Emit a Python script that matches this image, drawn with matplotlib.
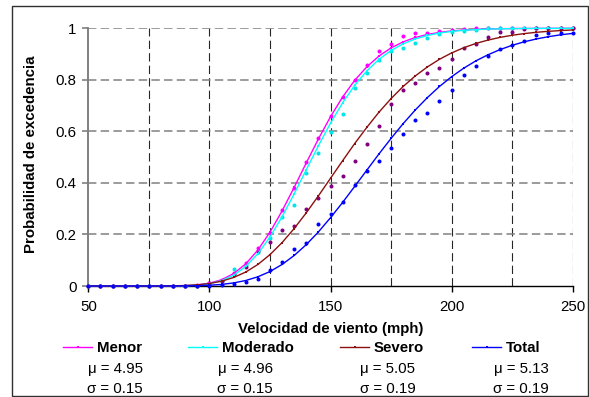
import matplotlib
matplotlib.use("Agg")
import matplotlib.pyplot as plt
from matplotlib.patches import Rectangle

plt.rcParams['font.family'] = ['Liberation Sans', 'DejaVu Sans']

# ---------------- data ----------------
speed = list(range(50, 255, 5))  # mph

series_names = ["Menor", "Moderado", "Severo", "Total"]
mu_labels = ["μ = 4.95", "μ = 4.96", "μ = 5.05", "μ = 5.13"]
sigma_labels = ["σ = 0.15", "σ = 0.15", "σ = 0.19", "σ = 0.19"]

# fitted (lognormal) curves read at every 5 mph
fit_menor = [0, 0, 0, 0, 0, 0, 0.0001, 0.0004, 0.0013, 0.0041, 0.0108, 0.0242,
             0.0482, 0.0858, 0.1394, 0.2087, 0.2912, 0.3829, 0.4777, 0.5706,
             0.6569, 0.7334, 0.7981, 0.8506, 0.8923, 0.9239, 0.9474, 0.9643,
             0.9761, 0.9843, 0.9899, 0.9936, 0.9959, 0.9975, 0.9984, 0.9991,
             0.9994, 0.9997, 0.9998, 0.9999, 0.9999]
fit_moderado = [0, 0, 0, 0, 0, 0, 0.0001, 0.0003, 0.0011, 0.0034, 0.0090, 0.0207,
                0.0418, 0.0758, 0.1251, 0.1900, 0.2686, 0.3576, 0.4511, 0.5442,
                0.6319, 0.7109, 0.7788, 0.8347, 0.8794, 0.9139, 0.9398, 0.9587,
                0.9721, 0.9816, 0.9879, 0.9922, 0.9951, 0.9969, 0.9981, 0.9988,
                0.9993, 0.9996, 0.9997, 0.9998, 0.9999]
fit_severo = [0, 0, 0, 0, 0, 0, 0.0002, 0.0007, 0.0019, 0.0045, 0.0096, 0.0186,
              0.0330, 0.0541, 0.0835, 0.1216, 0.1683, 0.2230, 0.2840, 0.3497,
              0.4180, 0.4861, 0.5529, 0.6156, 0.6744, 0.7271, 0.7743, 0.8151,
              0.8501, 0.8798, 0.9044, 0.9246, 0.9411, 0.9542, 0.9647, 0.9730,
              0.9795, 0.9845, 0.9883, 0.9912, 0.9935]
fit_total = [0, 0, 0, 0, 0, 0, 0, 0.0001, 0.0005, 0.0012, 0.0029, 0.0061,
             0.0119, 0.0213, 0.0357, 0.0561, 0.0835, 0.1184, 0.1606, 0.2098,
             0.2650, 0.3242, 0.3867, 0.4495, 0.5124, 0.5726, 0.6301, 0.6830,
             0.7311, 0.7743, 0.8122, 0.8452, 0.8735, 0.8972, 0.9173, 0.9340,
             0.9476, 0.9586, 0.9675, 0.9747, 0.9803]

# observed points at every 5 mph
obs_menor = [0, 0, 0, 0, 0, 0, 0, 0, 0, 0.005, 0.01, 0.025, 0.05, 0.088, 0.146,
             0.204, 0.295, 0.38, 0.48, 0.575, 0.66, 0.735, 0.80, 0.858, 0.91,
             0.94, 0.97, 0.983, 0.983, 0.99, 0.993, 0.998, 1.0, 1.0, 1.0, 1.0,
             1.0, 1.0, 1.0, 1.0, 1.0]
obs_moderado = [0, 0, 0, 0, 0, 0, 0, 0, 0, 0, 0.008, 0.02, 0.065, 0.08, 0.133,
                0.185, 0.267, 0.314, 0.44, 0.517, 0.599, 0.667, 0.767, 0.825,
                0.877, 0.91, 0.922, 0.944, 0.961, 0.977, 0.984, 0.99, 0.995,
                1.0, 1.0, 1.0, 1.0, 1.0, 1.0, 1.0, 1.0]
obs_severo = [0, 0, 0, 0, 0, 0, 0, 0, 0, 0, 0.01, 0.02, 0.045, 0.075, 0.136,
              0.17, 0.217, 0.233, 0.298, 0.34, 0.388, 0.428, 0.486, 0.55, 0.622,
              0.706, 0.761, 0.789, 0.828, 0.847, 0.88, 0.925, 0.94, 0.965, 0.984,
              0.987, 0.996, 1.0, 1.0, 1.0, 1.0]
obs_total = [0, 0, 0, 0, 0, 0, 0, 0, 0, 0, 0, 0.005, 0.008, 0.017, 0.027,
             0.063, 0.092, 0.144, 0.166, 0.239, 0.278, 0.325, 0.39, 0.446, 0.486,
             0.534, 0.59, 0.644, 0.673, 0.718, 0.76, 0.819, 0.852, 0.893, 0.92,
             0.935, 0.952, 0.974, 0.98, 0.98, 0.981]

fits = [fit_menor, fit_moderado, fit_severo, fit_total]
obs = [obs_menor, obs_moderado, obs_severo, obs_total]

x_ticks = [50, 100, 150, 200, 250]
x_grid = [75, 100, 125, 150, 175, 200, 225, 250]
y_ticks = [0, 0.2, 0.4, 0.6, 0.8, 1.0]
y_ticklabels = ["0", "0.2", "0.4", "0.6", "0.8", "1"]

# ---------------- style ----------------
line_colors = ["#FF00FF", "#00FFFF", "#8B1010", "#0000FF"]
dot_colors = ["#FF00FF", "#00E5E5", "#800080", "#0000FF"]
FS = 10.8

W, H = 589, 397
fig = plt.figure(figsize=(W / 100, H / 100), dpi=100)
ax = fig.add_axes([88.3 / W, (H - 286) / H, (572.7 - 88.3) / W, (286 - 28.3) / H])

ax.set_xlim(50, 250)
ax.set_ylim(0, 1)

handles = []
for i in range(4):
    ax.plot(speed, obs[i], linestyle="none", marker="o", markersize=2.9,
            color=dot_colors[i], markeredgewidth=0, zorder=3, clip_on=False)
for i in range(4):
    h, = ax.plot(speed, fits[i], color=line_colors[i], linewidth=1.0,
                 marker="s", markersize=1.8, markeredgewidth=0, zorder=4,
                 clip_on=False)
    handles.append(h)

# grid
for xv in x_grid:
    ax.axvline(xv, color="#262626", linewidth=0.8,
               linestyle=(0, (7.5, 3.75)), zorder=1)
for yv in y_ticks[1:]:
    ax.axhline(yv, color="#808080", linewidth=1.1,
               linestyle=(0, (5.5, 2.8)), zorder=1)

ax.spines["top"].set_visible(False)
ax.spines["right"].set_visible(False)
ax.spines["left"].set_color("#808080")
ax.spines["left"].set_linewidth(1.4)
ax.spines["bottom"].set_color("black")
ax.spines["bottom"].set_linewidth(1.0)
ax.spines["bottom"].set_zorder(2)

ax.set_xticks(x_ticks)
ax.set_xticklabels([str(v) for v in x_ticks])
ax.set_yticks(y_ticks)
ax.set_yticklabels(y_ticklabels)
ax.tick_params(axis="x", length=4, width=1, color="black", pad=6, labelsize=FS)
ax.tick_params(axis="y", length=4, width=1.2, color="#808080", pad=4.5, labelsize=FS)

fig.text(31 / W, (H - 154) / H, "Probabilidad de excedencia", rotation=90,
         ha="center", va="center", fontsize=FS, fontweight="bold")
fig.text(330.5 / W, (H - 333) / H, "Velocidad de viento (mph)",
         ha="center", va="baseline", fontsize=FS, fontweight="bold")

# legend entries (one per column) with parameter text below
leg_x = [63, 188, 340, 472]
col_cx = [115, 245, 388, 521]
for i in range(4):
    fig.legend(handles=[handles[i]], labels=[series_names[i]],
               loc="center left", bbox_to_anchor=(leg_x[i] / W, (H - 348) / H),
               frameon=False, borderpad=0, borderaxespad=0,
               handlelength=1.95, handletextpad=0.3,
               prop={"weight": "bold", "size": FS})
    fig.text(col_cx[i] / W, (H - 373.3) / H, mu_labels[i], ha="center",
             va="baseline", fontsize=FS)
    fig.text(col_cx[i] / W, (H - 392.7) / H, sigma_labels[i], ha="center",
             va="baseline", fontsize=FS)

# outer frame
fig.add_artist(Rectangle((12 / W, 1 / H), (588 - 12) / W, (396 - 6) / H,
                         transform=fig.transFigure, fill=False,
                         edgecolor="#303030", linewidth=1.0))

fig.savefig("out.png", dpi=100)
